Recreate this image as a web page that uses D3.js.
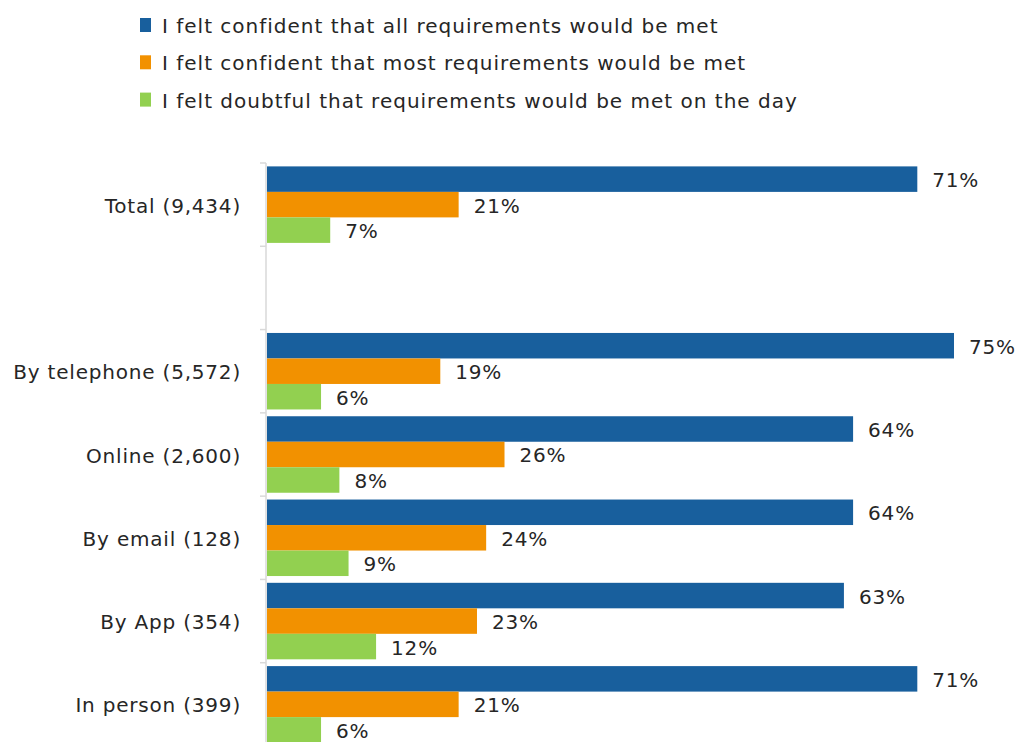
<!DOCTYPE html>
<html>
<head>
<meta charset="utf-8">
<script src="https://cdn.jsdelivr.net/npm/d3@7/dist/d3.min.js"></script>
<style>
  html, body { margin: 0; padding: 0; background: #fff; }
  svg { display: block; }
  text { font-family: "DejaVu Sans", Verdana, sans-serif; fill: #262626; }
</style>
</head>
<body>
<svg id="chart" width="1022" height="742"></svg>
<script>
// Survey groups (the empty entry leaves a gap after the total row)
const categories = ["Total (9,434)", "", "By telephone (5,572)", "Online (2,600)", "By email (128)", "By App (354)", "In person (399)"];
const seriesNames = [
  "I felt confident that all requirements would be met",
  "I felt confident that most requirements would be met",
  "I felt doubtful that requirements would be met on the day"
];
const allMet    = [71, null, 75, 64, 64, 63, 71];
const mostMet   = [21, null, 19, 26, 24, 23, 21];
const doubtful  = [7,  null, 6,  8,  9,  12, 6];
const colors = ["#185f9d", "#f29100", "#92d050"];

const seriesValues = [allMet, mostMet, doubtful];
const rows = categories.map((c, i) => ({
  key: c === "" ? "__gap__" : c,
  label: c,
  values: seriesValues.map((s, j) => ({ series: j, value: s[i] }))
}));

const svg = d3.select("#chart");

const x = d3.scaleLinear().domain([0, 75]).range([266, 954]);
const y = d3.scaleBand().domain(rows.map(r => r.key)).range([163, 746]).paddingInner(0).paddingOuter(0);
const ySub = d3.scaleBand().domain([0, 1, 2]).range([0, y.bandwidth()]).paddingInner(0).paddingOuter(0.133);

// Legend
const legend = svg.append("g").attr("class", "legend");
seriesNames.forEach((name, i) => {
  const g = legend.append("g").attr("transform", `translate(140, ${25 + i * 37.3})`);
  g.append("rect").attr("x", 0).attr("y", -7).attr("width", 11).attr("height", 14).attr("fill", colors[i]);
  g.append("text").attr("x", 22).attr("y", 1).attr("dy", "0.35em")
    .style("font-size", "20px").style("letter-spacing", "1px").text(name);
});

// Category axis: light baseline with short boundary ticks between groups
const axisG = svg.append("g").attr("transform", `translate(${x(0)},0)`);
axisG.append("line").attr("x1", 0).attr("x2", 0).attr("y1", y.range()[0]).attr("y2", y.range()[1])
  .attr("stroke", "#d9d9d9").attr("stroke-width", 1.5);
const bounds = rows.map(r => y(r.key)).concat([y.range()[1]]);
axisG.selectAll("line.bound").data(bounds).join("line").attr("class", "bound")
  .attr("x1", -6).attr("x2", 0).attr("y1", d => d).attr("y2", d => d)
  .attr("stroke", "#d9d9d9").attr("stroke-width", 1.5);

svg.append("g").selectAll("text").data(rows.filter(r => r.label !== "")).join("text")
  .attr("x", 241).attr("y", d => y(d.key) + y.bandwidth() / 2 + 1).attr("dy", "0.35em")
  .attr("text-anchor", "end").style("font-size", "20px").style("letter-spacing", "0.8px")
  .text(d => d.label);

// Bars and value labels
const groups = svg.append("g").selectAll("g").data(rows.filter(r => r.label !== "")).join("g")
  .attr("transform", d => `translate(0,${y(d.key)})`);

groups.selectAll("rect").data(d => d.values).join("rect")
  .attr("x", x(0) + 1)
  .attr("y", d => ySub(d.series))
  .attr("width", d => x(d.value) - x(0) - 1)
  .attr("height", ySub.bandwidth())
  .attr("fill", d => colors[d.series]);

groups.selectAll("text").data(d => d.values).join("text")
  .attr("x", d => x(d.value) + 15)
  .attr("y", d => ySub(d.series) + ySub.bandwidth() / 2 + 1)
  .attr("dy", "0.35em")
  .style("font-size", "20px").style("letter-spacing", "0.8px")
  .text(d => d.value + "%");
</script>
</body>
</html>
